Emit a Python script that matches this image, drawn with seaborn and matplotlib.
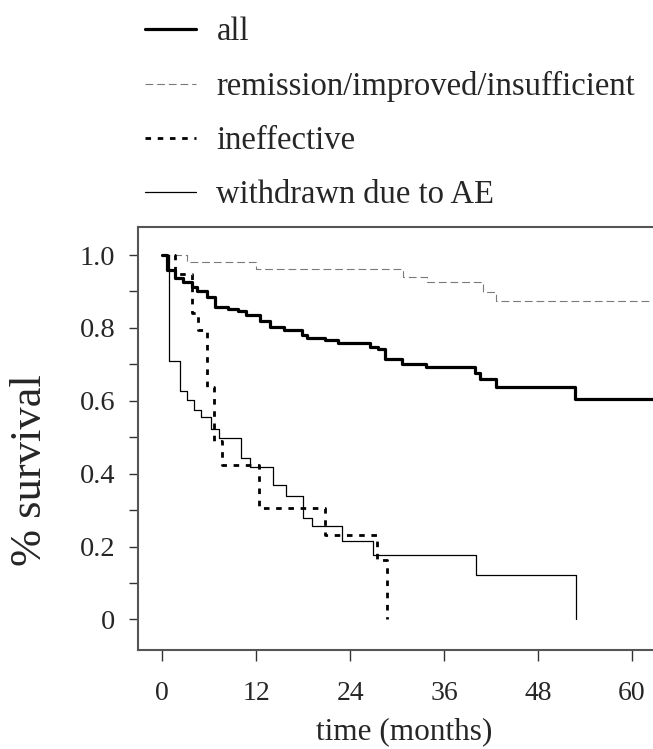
import pandas as pd
import matplotlib
matplotlib.use("Agg")
import matplotlib.pyplot as plt
import seaborn as sns

# Kaplan-Meier style step data (time in months, survival)
all_t = [0, 0.56, 1.6, 2.7, 3.8, 4.4, 5.75, 6.7, 8.4, 9.7, 10.7, 12.5, 13.8, 15.6,
         17.8, 18.5, 20.8, 22.5, 26.5, 27.6, 28.5, 30.6, 33.7, 40.0, 40.6, 42.6, 52.7, 63]
all_s = [1.0, 0.959, 0.936, 0.925, 0.911, 0.901, 0.886, 0.858, 0.853, 0.847, 0.835, 0.820,
         0.803, 0.794, 0.780, 0.773, 0.767, 0.758, 0.748, 0.742, 0.714, 0.701, 0.693,
         0.675, 0.659, 0.638, 0.604, 0.604]

rem_t = [0, 3.1, 12.0, 30.8, 33.8, 41.0, 42.7, 63]
rem_s = [1.0, 0.982, 0.963, 0.939, 0.925, 0.899, 0.875, 0.875]

ineff_t = [0, 1.6, 3.8, 4.6, 5.7, 6.6, 7.6, 12.4, 20.8, 27.4, 28.7]
ineff_s = [1.0, 0.948, 0.84, 0.795, 0.638, 0.49, 0.424, 0.305, 0.231, 0.163, 0.0]

ae_t = [0, 0.9, 2.2, 3.1, 4.0, 4.9, 6.2, 7.2, 10.1, 11.2, 14.1, 15.8, 18.0, 19.1,
        22.9, 26.9, 40.1, 52.9]
ae_s = [1.0, 0.709, 0.627, 0.602, 0.576, 0.556, 0.522, 0.497, 0.442, 0.419, 0.368,
        0.339, 0.278, 0.256, 0.216, 0.177, 0.121, 0.0]

x_ticks = [0, 12, 24, 36, 48, 60]
y_ticks = [0, 0.2, 0.4, 0.6, 0.8, 1.0]
y_tick_labels = ["0", "0.2", "0.4", "0.6", "0.8", "1.0"]

sns.set_style("ticks")
plt.rcParams["font.family"] = ["Liberation Serif", "DejaVu Serif"]

fig = plt.figure(figsize=(6.53, 7.49), dpi=100)
ax = fig.add_axes([138.3 / 653, 99 / 749, 1 - 138.3 / 653, (650 - 227) / 749])

series = [
    ("all", all_t, all_s, dict(color="black", linewidth=2.3, linestyle="-")),
    ("remission/improved/insufficient", rem_t, rem_s,
     dict(color="#7a7a7a", linewidth=0.8, linestyle=(0, (7, 3.5)))),
    ("ineffective", ineff_t, ineff_s,
     dict(color="black", linewidth=2.0, linestyle=(0, (2.0, 2.4)))),
    ("withdrawn due to AE", ae_t, ae_s, dict(color="black", linewidth=0.9, linestyle="-")),
]

for name, t, s, style in series:
    df = pd.DataFrame({"time": t, "surv": s})
    sns.lineplot(data=df, x="time", y="surv", ax=ax, drawstyle="steps-post",
                 estimator=None, sort=False, label=name, **style)

ax.set_xlim(-3.07, 62.7)
ax.set_ylim(-0.084, 1.077)
ax.set_xticks(x_ticks)
ax.set_xticklabels([str(v) for v in x_ticks])
ax.set_yticks(y_ticks)
ax.set_yticklabels(y_tick_labels)
ax.set_yticks([0.1, 0.3, 0.5, 0.7, 0.9], minor=True)

ax.tick_params(axis="x", direction="out", length=8, width=1, labelsize=20, pad=14, color="#333")
ax.tick_params(axis="y", which="both", direction="out", length=6.5, width=1, labelsize=20.5,
               pad=10, color="#333")

for side in ["left", "top", "bottom"]:
    ax.spines[side].set_color("#555")
    ax.spines[side].set_linewidth(1.5)
ax.spines["right"].set_visible(False)

ax.set_xlabel("time (months)", fontsize=22.5)
ax.xaxis.set_label_coords((404 - 138.3) / 514.7, -(717 - 650) / 423)
ax.set_ylabel("% survival", fontsize=32)
ax.yaxis.set_label_coords((30 - 138.3) / 514.7, (650 - 470) / 423)
ax.yaxis.label.set_va("center")

ax.legend(loc="upper left", bbox_to_anchor=(145 / 653, 1 - 17 / 749),
          bbox_transform=fig.transFigure, frameon=False, fontsize=23.5,
          handlelength=1.55, handletextpad=0.64, labelspacing=0.72,
          borderpad=0, borderaxespad=0)

plt.savefig("out.png", dpi=100)
